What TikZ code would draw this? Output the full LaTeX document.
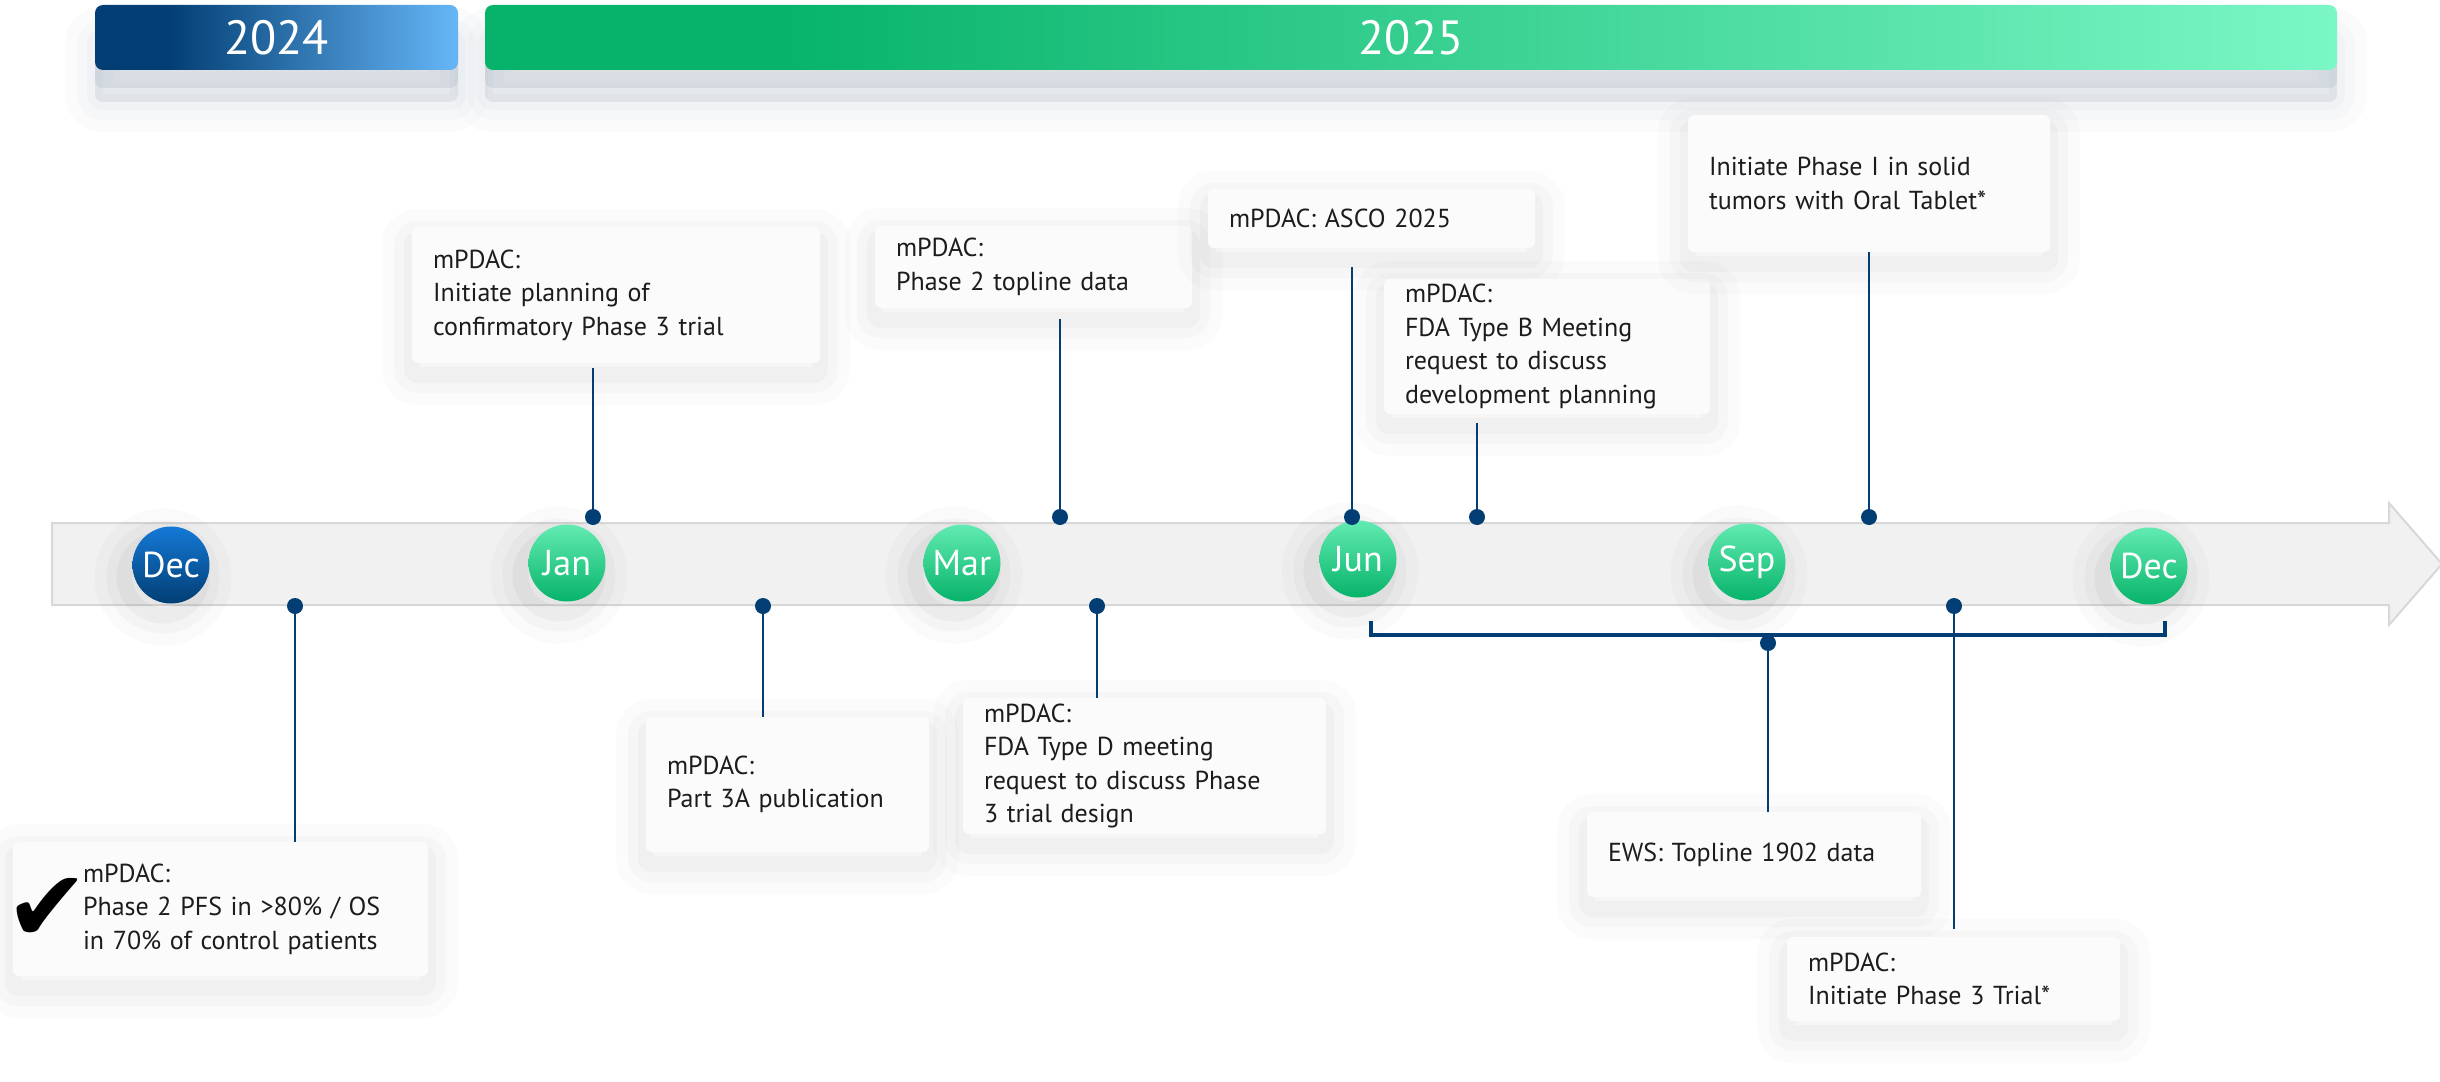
\documentclass[tikz,border=0pt]{standalone}
\usepackage{fontspec}
\setmainfont{PT Sans}
\newfontfamily\symfont{DejaVu Sans}
\definecolor{navy}{HTML}{023E73}
\definecolor{sky}{HTML}{66B6F7}
\definecolor{skydeep}{HTML}{1479D6}
\definecolor{green}{HTML}{07B36A}
\definecolor{mint}{HTML}{7BF7C6}
\definecolor{mintlt}{HTML}{62EBB2}
\definecolor{spinebg}{HTML}{F1F1F1}
\definecolor{spineedge}{HTML}{D8D8D8}
\definecolor{cardbg}{HTML}{FBFBFB}
\definecolor{ink}{HTML}{1C1C1C}
\definecolor{haze}{HTML}{50647E}
\pgfdeclarehorizontalshading{bar24}{100bp}{color(0bp)=(navy); color(35bp)=(navy); color(75bp)=(sky); color(100bp)=(sky)}
\pgfdeclarehorizontalshading{bar25}{100bp}{color(0bp)=(green); color(33bp)=(green); color(75bp)=(mint); color(100bp)=(mint)}
\tikzset{
  halo/.style n args={3}{
    preaction={draw=#1, line width=30pt, opacity=.02, transform canvas={xshift=#2, yshift=#3}},
    preaction={draw=#1, line width=18pt, opacity=.025, transform canvas={xshift=#2, yshift=#3}},
    preaction={draw=#1, line width=8pt, opacity=.03, transform canvas={xshift=#2, yshift=#3}}},
  spine/.style={fill=spinebg, draw=spineedge, line width=1pt},
  year/.style={rounded corners=4pt, minimum height=32.5pt, inner sep=0pt, text=white,
    font=\fontsize{24}{24}\selectfont, halo={haze}{0pt}{-16pt},
    preaction={fill=haze, opacity=.10, transform canvas={yshift=-16pt}},
    preaction={fill=haze, opacity=.10, transform canvas={yshift=-9pt}}},
  card/.style={fill=cardbg, rounded corners=3pt, align=left, inner xsep=10.5pt, inner ysep=0pt,
    text=ink, font=\fontsize{13}{16.75}\selectfont, halo={black!70}{0pt}{-6pt}},
  month/.style={circle, minimum size=38.5pt, inner sep=0pt, text=white,
    font=\fontsize{18}{18}\selectfont, shading angle=-45, halo={black}{-4pt}{-6pt}},
  mgreen/.style={month, top color=mintlt, bottom color=green},
  mblue/.style={month, top color=skydeep, bottom color=navy},
  dot/.style={circle, fill=navy, inner sep=0pt, minimum size=8pt},
  link/.style={draw=navy, line width=1.3pt},
  brace/.style={draw=navy, line width=2pt},
}
\begin{document}
\begin{tikzpicture}[x=0.5pt, y=-0.5pt]
  \useasboundingbox (0,0) rectangle (2440,1081);
  \fill[white] (0,0) rectangle (2440,1081);

  % years
  \node[year, shading=bar24, minimum width=181.5pt] (y24) at (276.5,37.5) {2024};
  \node[year, shading=bar25, minimum width=926pt] (y25) at (1411,37.5) {2025};

  % timeline
  \draw[spine] (52,523) -- (2389,523) -- (2389,503) -- (2442,564) -- (2389,625) -- (2389,605) -- (52,605) -- cycle;

  \node[mblue] (dec24) at (171,565) {Dec};
  \node[mgreen] (jan) at (567,563) {Jan};
  \node[mgreen] (mar) at (962,563) {Mar};
  \node[mgreen] (jun) at (1358,559) {Jun};
  \node[mgreen] (sep) at (1747,562) {Sep};
  \node[mgreen] (dec25) at (2149,566) {Dec};

  % milestones
  \node[card, minimum width=207.5pt, minimum height=67pt, text width=186.5pt] (pfs) at (220.5,909)
    {\hspace*{24.5pt}mPDAC:\\\hspace*{24.5pt}Phase 2 PFS in >80\% / OS\\\hspace*{24.5pt}in 70\% of control patients};
  \node[font=\symfont\fontsize{50}{50}\selectfont, inner sep=0pt] (tick) at (47,910) {✔};
  \node[card, minimum width=204pt, minimum height=68pt, text width=183pt] (plan) at (616,295)
    {mPDAC:\\Initiate planning of\\confirmatory Phase 3 trial};
  \node[card, minimum width=141.5pt, minimum height=67.5pt, text width=120.5pt] (pub) at (787.5,784.5)
    {mPDAC:\\Part 3A publication};
  \node[card, minimum width=158.5pt, minimum height=41pt, text width=137.5pt] (topline) at (1033.5,267)
    {mPDAC:\\Phase 2 topline data};
  \node[card, minimum width=181.5pt, minimum height=68pt, text width=160.5pt] (typed) at (1144.5,766)
    {mPDAC:\\FDA Type D meeting\\request to discuss Phase\\3 trial design};
  \node[card, minimum width=163.5pt, minimum height=29.5pt, text width=142.5pt] (asco) at (1371.5,218.5)
    {mPDAC: ASCO 2025};
  \node[card, minimum width=163pt, minimum height=67.5pt, text width=142pt] (typeb) at (1547,346.5)
    {mPDAC:\\FDA Type B Meeting\\request to discuss\\development planning};
  \node[card, minimum width=181pt, minimum height=68.5pt, text width=160pt] (oral) at (1869,183.5)
    {Initiate Phase I in solid\\tumors with Oral Tablet*};
  \node[card, minimum width=167pt, minimum height=42.5pt, text width=146pt] (ews) at (1754,854.5)
    {EWS: Topline 1902 data};
  \node[card, minimum width=166.5pt, minimum height=42pt, text width=145.5pt] (trial) at (1953.5,979)
    {mPDAC:\\Initiate Phase 3 Trial*};

  % dots on the spine
  \node[dot] (d1) at (593,517) {};
  \node[dot] (d2) at (295,606) {};
  \node[dot] (d3) at (763,606) {};
  \node[dot] (d4) at (1060,517) {};
  \node[dot] (d5) at (1097,606) {};
  \node[dot] (d6) at (1352,517) {};
  \node[dot] (d7) at (1477,517) {};
  \node[dot] (d8) at (1869,517) {};
  \node[dot] (d9) at (1954,606) {};

  % Jun-Dec bracket
  \coordinate (brl) at (1371,621);
  \coordinate (brr) at (2165,621);
  \coordinate (brmid) at (1768,635);
  \draw[brace] (brl) |- (brmid) -| (brr);
  \node[dot] (d10) at (1768,643) {};

  \draw[link, shorten <=2.5pt] (plan.south -| d1) -- (d1);
  \draw[link] (pfs.north -| d2) -- (d2);
  \draw[link] (pub.north -| d3) -- (d3);
  \draw[link, shorten <=5.5pt] (topline.south -| d4) -- (d4);
  \draw[link] (typed.north -| d5) -- (d5);
  \draw[link, shorten <=9.5pt] (asco.south -| d6) -- (d6);
  \draw[link, shorten <=4.5pt] (typeb.south -| d7) -- (d7);
  \draw[link] (oral.south -| d8) -- (d8);
  \draw[link, shorten <=4pt] (trial.north -| d9) -- (d9);
  \draw[link] (ews.north -| d10) -- (d10);
\end{tikzpicture}
\end{document}
